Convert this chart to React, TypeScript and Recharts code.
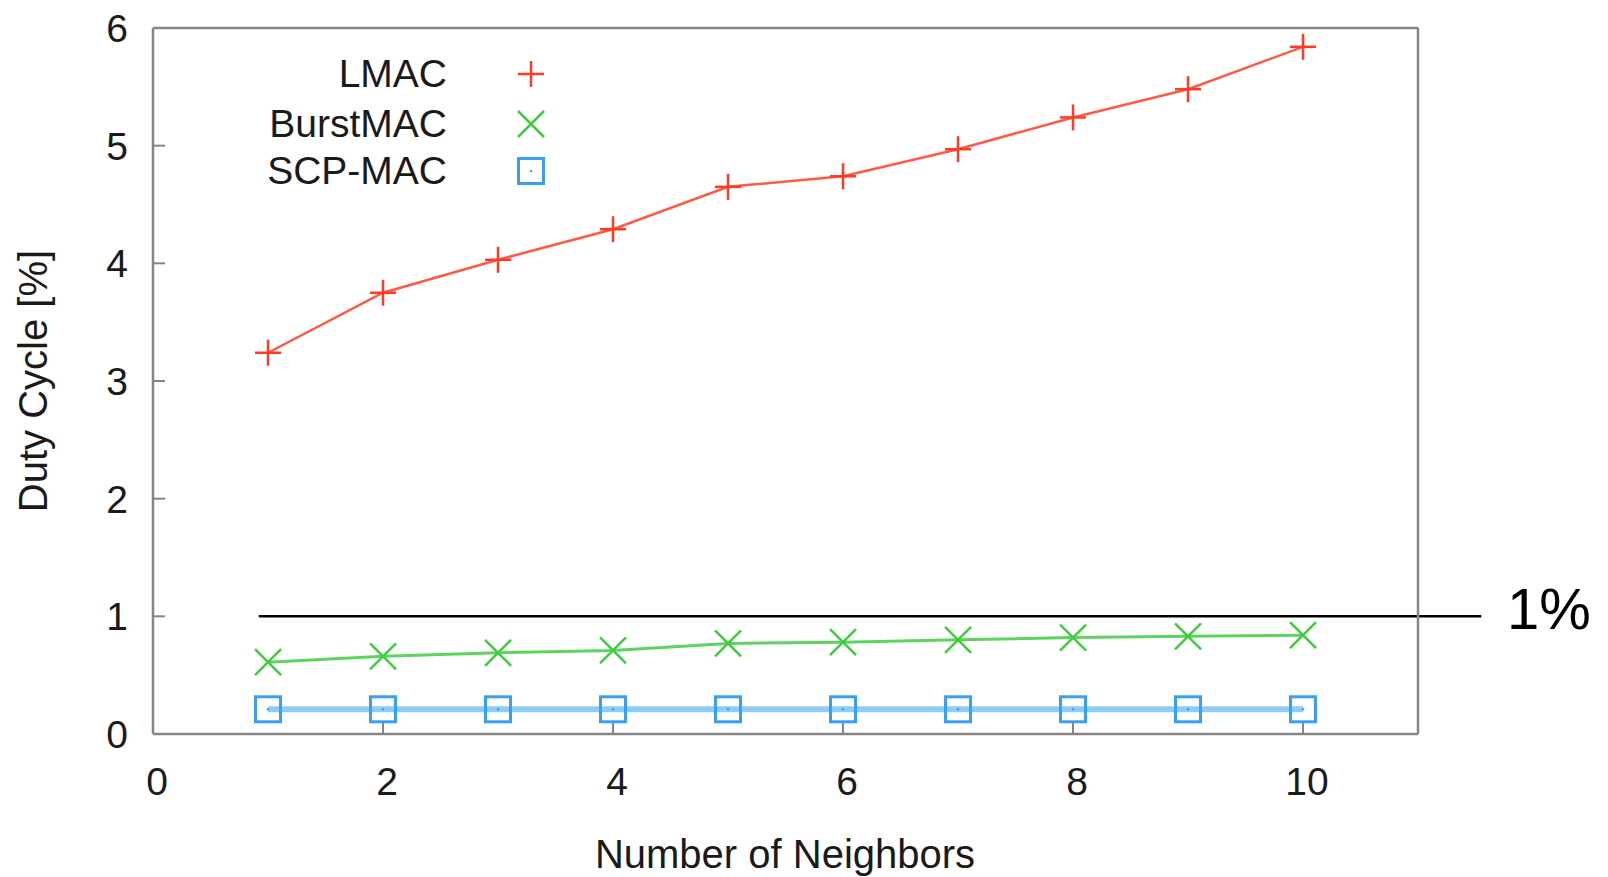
import React from 'react';
import { LineChart, Line, XAxis, YAxis, ReferenceLine } from 'recharts';

const neighbors = [1, 2, 3, 4, 5, 6, 7, 8, 9, 10];
const lmacValues = [3.24, 3.75, 4.03, 4.29, 4.65, 4.74, 4.97, 5.24, 5.48, 5.84];
const burstmacValues = [0.61, 0.66, 0.69, 0.71, 0.77, 0.78, 0.8, 0.82, 0.83, 0.84];
const scpmacValues = [0.21, 0.21, 0.21, 0.21, 0.21, 0.21, 0.21, 0.21, 0.21, 0.21];
const xTicks = [0, 2, 4, 6, 8, 10];
const yTicks = [0, 1, 2, 3, 4, 5, 6];
const xDomain: [number, number] = [0, 11];
const yDomain: [number, number] = [0, 6];
const thresholdValue = 1;
const thresholdStart = 0.92;
const thresholdEnd = 11.55;
const thresholdText = '1%';
const seriesNames = ['LMAC', 'BurstMAC', 'SCP-MAC'];
const xTitle = 'Number of Neighbors';
const yTitle = 'Duty Cycle [%]';

const data = neighbors.map((n, i) => ({
  n,
  lmac: lmacValues[i],
  burst: burstmacValues[i],
  scp: scpmacValues[i],
}));

const FONT = '"Liberation Sans", Arial, Helvetica, sans-serif';
const RED = '#ff3b26';
const GREEN = '#3fcc3f';
const BLUE = '#3a9ff0';
const BLUE_LINE = '#8ecbf6';
const AXIS = '#858585';

const PlusMark = ({ cx, cy, r = 13 }: any) => (
  <g>
    <line x1={cx - r} x2={cx + r} y1={cy} y2={cy} stroke={RED} strokeWidth={2.5} />
    <line x1={cx} x2={cx} y1={cy - r} y2={cy + r} stroke={RED} strokeWidth={2.5} />
  </g>
);

const CrossMark = ({ cx, cy, r = 13 }: any) => (
  <g>
    <line x1={cx - r} x2={cx + r} y1={cy - r} y2={cy + r} stroke={GREEN} strokeWidth={2.5} />
    <line x1={cx - r} x2={cx + r} y1={cy + r} y2={cy - r} stroke={GREEN} strokeWidth={2.5} />
  </g>
);

const BoxMark = ({ cx, cy, r = 12.5 }: any) => (
  <g>
    <rect x={cx - r} y={cy - r} width={2 * r} height={2 * r} fill="none" stroke={BLUE} strokeWidth={3} />
    <circle cx={cx} cy={cy} r={1.2} fill={BLUE} />
  </g>
);

const tickStyle = { fill: '#1a1a1a', fontSize: 39, fontFamily: FONT };

export default function App() {
  return (
    <div style={{ position: 'absolute', left: 0, top: 0, width: 1608, height: 877, background: '#fff' }}>
      <LineChart
        width={1608}
        height={877}
        data={data}
        margin={{ top: 27, right: 189, bottom: 0, left: 0 }}
      >
        <XAxis
          xAxisId="bottom"
          dataKey="n"
          type="number"
          domain={xDomain}
          ticks={xTicks}
          allowDataOverflow
          height={143}
          axisLine={{ stroke: AXIS, strokeWidth: 2.5 }}
          tickLine={{ stroke: AXIS, strokeWidth: 2 }}
          tickSize={-12}
          tickMargin={45}
          tick={{ ...tickStyle, dx: 4 }}
        />
        <XAxis
          xAxisId="top"
          orientation="top"
          dataKey="n"
          type="number"
          domain={xDomain}
          ticks={xTicks}
          allowDataOverflow
          height={1}
          axisLine={{ stroke: AXIS, strokeWidth: 2.5 }}
          tickLine={{ stroke: AXIS, strokeWidth: 2 }}
          tickSize={-12}
          tick={false}
        />
        <YAxis
          yAxisId="left"
          type="number"
          domain={yDomain}
          ticks={yTicks}
          allowDataOverflow
          width={153}
          axisLine={{ stroke: AXIS, strokeWidth: 2.5 }}
          tickLine={{ stroke: AXIS, strokeWidth: 2 }}
          tickSize={-12}
          tickMargin={37}
          tick={tickStyle}
        />
        <YAxis
          yAxisId="right"
          orientation="right"
          type="number"
          domain={yDomain}
          ticks={yTicks}
          allowDataOverflow
          width={1}
          axisLine={{ stroke: AXIS, strokeWidth: 2.5 }}
          tickLine={{ stroke: AXIS, strokeWidth: 2 }}
          tickSize={-12}
          tick={false}
        />
        <Line
          xAxisId="top"
          yAxisId="right"
          dataKey="scp"
          stroke="none"
          legendType="none"
          isAnimationActive={false}
          dot={false}
          activeDot={false}
        />
        <Line
          xAxisId="bottom"
          yAxisId="left"
          dataKey="scp"
          name={seriesNames[2]}
          stroke={BLUE_LINE}
          strokeWidth={6}
          isAnimationActive={false}
          dot={(p: any) => <BoxMark key={`scp-${p.index}`} cx={p.cx} cy={p.cy} />}
          activeDot={false}
        />
        <Line
          xAxisId="bottom"
          yAxisId="left"
          dataKey="burst"
          name={seriesNames[1]}
          stroke="#5fd35f"
          strokeWidth={3}
          isAnimationActive={false}
          dot={(p: any) => <CrossMark key={`burst-${p.index}`} cx={p.cx} cy={p.cy} />}
          activeDot={false}
        />
        <Line
          xAxisId="bottom"
          yAxisId="left"
          dataKey="lmac"
          name={seriesNames[0]}
          stroke="#ff5a45"
          strokeWidth={2.5}
          isAnimationActive={false}
          dot={(p: any) => <PlusMark key={`lmac-${p.index}`} cx={p.cx} cy={p.cy} />}
          activeDot={false}
        />
        <ReferenceLine
          xAxisId="bottom"
          yAxisId="left"
          segment={[
            { x: thresholdStart, y: thresholdValue },
            { x: thresholdEnd, y: thresholdValue },
          ]}
          stroke="#000"
          strokeWidth={2.5}
          ifOverflow="visible"
        />
      </LineChart>
      <svg
        width={1608}
        height={877}
        style={{ position: 'absolute', left: 0, top: 0, pointerEvents: 'none' }}
      >
        <g fontFamily={FONT} fill="#1a1a1a">
          <text x={447} y={87} fontSize={39} textAnchor="end">{seriesNames[0]}</text>
          <text x={447} y={137} fontSize={39} textAnchor="end">{seriesNames[1]}</text>
          <text x={447} y={184} fontSize={39} textAnchor="end">{seriesNames[2]}</text>
          <text x={785} y={868} fontSize={40} textAnchor="middle">{xTitle}</text>
          <text x={47} y={381} fontSize={40} textAnchor="middle" transform="rotate(-90 47 381)">{yTitle}</text>
          <text x={1507} y={629} fontSize={58} fill="#000">{thresholdText}</text>
        </g>
        <PlusMark cx={531} cy={74} />
        <CrossMark cx={531} cy={124} />
        <BoxMark cx={531} cy={171} />
      </svg>
    </div>
  );
}
